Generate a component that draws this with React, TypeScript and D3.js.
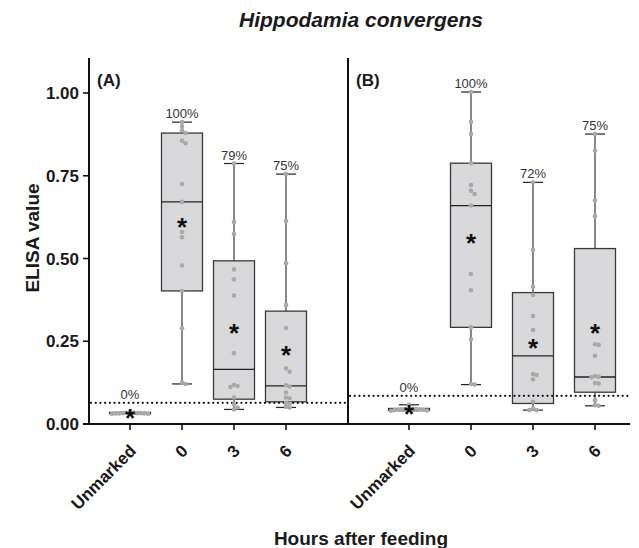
import * as d3 from 'd3'

const groups = ['Unmarked', '0', '3', '6']

// panel A: individual ELISA readings
const aUnmarked = [0.031, 0.032, 0.033, 0.032, 0.034, 0.033, 0.035, 0.031, 0.034, 0.033, 0.032]
const aHour0 = [0.912, 0.899, 0.887, 0.879, 0.856, 0.848, 0.725, 0.671, 0.58, 0.564, 0.479, 0.402, 0.289, 0.125, 0.121]
const aHour3 = [0.787, 0.61, 0.574, 0.467, 0.437, 0.388, 0.214, 0.118, 0.115, 0.112, 0.08, 0.06, 0.05, 0.044]
const aHour6 = [0.755, 0.613, 0.486, 0.359, 0.29, 0.168, 0.158, 0.117, 0.113, 0.095, 0.08, 0.078, 0.064, 0.062, 0.052, 0.05]

// panel B
const bUnmarked = [0.058, 0.047, 0.046, 0.045, 0.044, 0.045, 0.043, 0.042, 0.044, 0.043, 0.041, 0.04]
const bHour0 = [1.003, 0.913, 0.876, 0.788, 0.722, 0.705, 0.695, 0.66, 0.453, 0.404, 0.292, 0.256, 0.121, 0.119]
const bHour3 = [0.73, 0.526, 0.415, 0.39, 0.326, 0.284, 0.151, 0.148, 0.135, 0.067, 0.047, 0.042, 0.042]
const bHour6 = [0.876, 0.826, 0.675, 0.628, 0.241, 0.239, 0.206, 0.145, 0.143, 0.141, 0.124, 0.122, 0.072, 0.057, 0.055]

// box stats (Unmarked, 0, 3, 6)
const aQ1 = [0.031, 0.402, 0.075, 0.067]
const aMedian = [0.033, 0.671, 0.165, 0.115]
const aQ3 = [0.035, 0.879, 0.493, 0.341]
const aMean = [0.034, 0.61, 0.289, 0.224]
const aPercent = ['0%', '100%', '79%', '75%']
const aCutoff = 0.064

const bQ1 = [0.041, 0.292, 0.062, 0.096]
const bMedian = [0.044, 0.66, 0.206, 0.142]
const bQ3 = [0.047, 0.788, 0.397, 0.53]
const bMean = [0.044, 0.563, 0.246, 0.289]
const bPercent = ['0%', '100%', '72%', '75%']
const bCutoff = 0.085

const yTicks = [0, 0.25, 0.5, 0.75, 1]

const FONT = 'Arial, "Liberation Sans", Helvetica, sans-serif'
const svgWidth = 639
const svgHeight = 548
const boxWidth = 41
const capWidth = 20
const dotR = 2.3

const y = d3.scaleLinear().domain([0, 1]).range([424, 93])
const yTop = y(1.106)

// simple deterministic beeswarm so dots sharing a value spread sideways
function dodge(values: number[], cx: number) {
    const step = 3.6
    const minDist = 3.6
    const placed: { x: number, y: number }[] = []
    const out: { x: number, y: number }[] = new Array(values.length)
    const order = values.map((_, i) => i).sort((i, j) => values[j] - values[i])
    for (const i of order) {
        const py = y(values[i])
        let k = 0
        let px = cx
        for (;;) {
            const off = k === 0 ? 0 : (k % 2 === 1 ? 1 : -1) * Math.ceil(k / 2) * step
            px = cx + off
            if (placed.every(p => Math.hypot(p.x - px, p.y - py) >= minDist)) break
            k++
        }
        placed.push({ x: px, y: py })
        out[i] = { x: px, y: py }
    }
    return out
}

interface PanelProps {
    label: string
    left: number
    right: number
    x: d3.ScalePoint<string>
    series: number[][]
    q1: number[]
    median: number[]
    q3: number[]
    mean: number[]
    percent: string[]
    cutoff: number
}

const Panel = (props: PanelProps) => {
    const { x } = props
    const yc = y(props.cutoff)

    const boxes = groups.map((g, i) => {
        const cx = x(g) as number
        const vals = props.series[i]
        const [lo, hi] = d3.extent(vals) as [number, number]
        return (
            <g key={'box' + g}>
                <line x1={cx} x2={cx} y1={y(hi)} y2={y(lo)} stroke='#555' strokeWidth={1.4} />
                <line x1={cx - capWidth / 2} x2={cx + capWidth / 2} y1={y(hi)} y2={y(hi)} stroke='#222' strokeWidth={1.2} />
                <line x1={cx - capWidth / 2} x2={cx + capWidth / 2} y1={y(lo)} y2={y(lo)} stroke='#222' strokeWidth={1.2} />
                <rect
                    x={cx - boxWidth / 2}
                    y={y(props.q3[i])}
                    width={boxWidth}
                    height={Math.max(0.5, y(props.q1[i]) - y(props.q3[i]))}
                    fill='#d9d9db'
                    stroke='#3a3a3a'
                    strokeWidth={1.3}
                />
                <line x1={cx - boxWidth / 2} x2={cx + boxWidth / 2} y1={y(props.median[i])} y2={y(props.median[i])} stroke='#222' strokeWidth={1.3} />
            </g>
        )
    })

    const dots = groups.map((g, i) => {
        const cx = x(g) as number
        return dodge(props.series[i], cx).map((p, j) => (
            <circle key={g + j} cx={p.x} cy={p.y} r={dotR} fill='#a9a9a9' />
        ))
    })

    const stars = groups.map((g, i) => (
        <text
            key={'star' + g}
            x={x(g) as number}
            y={y(props.mean[i]) + 14}
            textAnchor='middle'
            fontSize={26}
            fontWeight='bold'
            fontFamily={FONT}
            fill='#111'
        >*</text>
    ))

    const pcts = groups.map((g, i) => {
        const hi = d3.max(props.series[i]) as number
        return (
            <text
                key={'pct' + g}
                x={x(g) as number}
                y={y(Math.max(hi, props.cutoff)) - 4}
                textAnchor='middle'
                fontSize={13}
                fontFamily={FONT}
                fill='#333'
            >{props.percent[i]}</text>
        )
    })

    const xTicks = groups.map(g => {
        const cx = x(g) as number
        return (
            <g key={'tick' + g}>
                <line x1={cx} x2={cx} y1={y(0)} y2={y(0) + 6} stroke='#111' strokeWidth={1.6} />
                <text
                    transform={`translate(${cx + 7},${y(0) + 28}) rotate(-45)`}
                    textAnchor='end'
                    fontSize={17}
                    fontWeight='bold'
                    fontFamily={FONT}
                    fill='#1a1a1a'
                >{g}</text>
            </g>
        )
    })

    return (
        <g>
            {boxes}
            <line
                x1={props.left + 2}
                x2={props.right}
                y1={yc}
                y2={yc}
                stroke='#111'
                strokeWidth={2.2}
                strokeDasharray='0.1 4.6'
                strokeLinecap='round'
            />
            {dots}
            {stars}
            {pcts}
            {xTicks}
            <text
                x={props.left + 8}
                y={86}
                fontSize={17}
                fontWeight='bold'
                fontFamily={FONT}
                fill='#1a1a1a'
            >{props.label}</text>
        </g>
    )
}

const App = () => {
    const xA = d3.scalePoint<string>().domain(groups).range([130, 286])
    const xB = d3.scalePoint<string>().domain(groups).range([409, 595])
    const axisLeft = 89
    const divider = 348
    const axisRight = 630

    return (
        <svg width={svgWidth} height={svgHeight} style={{ position: 'absolute', left: 0, top: 0 }}>
            <rect width={svgWidth} height={svgHeight} fill='#fff' />
            <text
                x={361}
                y={27}
                textAnchor='middle'
                fontSize={21}
                fontWeight='bold'
                fontStyle='italic'
                fontFamily={FONT}
                fill='#1a1a1a'
            >Hippodamia convergens</text>

            <Panel label='(A)' left={axisLeft} right={divider} x={xA}
                series={[aUnmarked, aHour0, aHour3, aHour6]}
                q1={aQ1} median={aMedian} q3={aQ3} mean={aMean}
                percent={aPercent} cutoff={aCutoff} />
            <Panel label='(B)' left={divider} right={axisRight} x={xB}
                series={[bUnmarked, bHour0, bHour3, bHour6]}
                q1={bQ1} median={bMedian} q3={bQ3} mean={bMean}
                percent={bPercent} cutoff={bCutoff} />

            {/* axes */}
            <line x1={axisLeft} x2={axisLeft} y1={yTop} y2={y(0) + 1} stroke='#111' strokeWidth={2} />
            <line x1={divider} x2={divider} y1={yTop} y2={y(0) + 1} stroke='#111' strokeWidth={2} />
            <line x1={axisLeft - 6} x2={axisRight} y1={y(0)} y2={y(0)} stroke='#111' strokeWidth={2} />
            {yTicks.map(t => (
                <g key={t}>
                    <line x1={axisLeft - 6} x2={axisLeft} y1={y(t)} y2={y(t)} stroke='#111' strokeWidth={1.6} />
                    <text
                        x={axisLeft - 10}
                        y={y(t)}
                        dy='0.36em'
                        textAnchor='end'
                        fontSize={17}
                        fontWeight='bold'
                        fontFamily={FONT}
                        fill='#1a1a1a'
                    >{d3.format('.2f')(t)}</text>
                </g>
            ))}
            <text
                transform={`translate(39,${238}) rotate(-90)`}
                textAnchor='middle'
                fontSize={19}
                fontWeight='bold'
                fontFamily={FONT}
                fill='#1a1a1a'
            >ELISA value</text>
            <text
                x={361}
                y={545}
                textAnchor='middle'
                fontSize={19}
                fontWeight='bold'
                fontFamily={FONT}
                fill='#1a1a1a'
            >Hours after feeding</text>
        </svg>
    )
}

export default App
